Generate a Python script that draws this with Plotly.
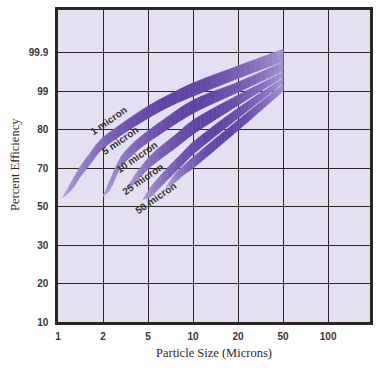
import numpy as np
import plotly.graph_objects as go

# ---- axis ticks (equally spaced probability / log-style grid) ----
x_tick_values = [1, 2, 5, 10, 20, 50, 100]
x_tick_labels = ["1", "2", "5", "10", "20", "50", "100"]
y_tick_values = [10, 20, 30, 50, 70, 80, 99, 99.9]
y_tick_labels = ["10", "20", "30", "50", "70", "80", "99", "99.9"]

band_names = ["1 micron", "5 micron", "10 micron", "25 micron", "50 micron"]

# ---- bands: particle size (microns) vs upper / lower efficiency (%) ----
b1_size = [1.08, 1.24, 1.40, 1.64, 1.91, 2.89, 5, 7.02, 10, 20, 50]
b1_upper = [54.86, 63.19, 70.23, 73.88, 77.26, 82.69, 91.59, 97.52, 99.19, 99.59, 99.98]
b1_lower = [54.86, 59.02, 65.27, 71.01, 74.40, 78.56, 85.66, 91.59, 96.53, 99.30, 99.70]

b2_size = [2.0, 2.31, 2.83, 3.47, 4.25, 6.01, 10, 20, 50]
b2_upper = [55.38, 63.71, 72.57, 75.70, 78.04, 83.68, 94.55, 99.21, 99.68]
b2_lower = [55.38, 59.02, 69.95, 72.83, 75.18, 78.82, 88.13, 98.51, 99.47]

b3_size = [3.19, 3.68, 4.25, 5.15, 6.01, 7.58, 10, 20, 50]
b3_upper = [58.50, 64.75, 69.95, 73.09, 75.44, 78.56, 84.67, 97.02, 99.44]
b3_lower = [58.50, 61.11, 65.27, 70.23, 72.31, 75.18, 78.82, 92.08, 99.33]

b4_size = [4.52, 5.15, 6.01, 7.02, 8.19, 10, 20, 50]
b4_upper = [53.82, 59.54, 65.79, 70.75, 73.36, 76.74, 90.60, 99.30]
b4_lower = [53.82, 54.86, 60.07, 65.27, 70.23, 73.62, 85.66, 99.19]

b5_size = [6.60, 7.58, 8.57, 10, 20, 50]
b5_upper = [60.07, 66.83, 70.49, 72.83, 84.67, 99.16]
b5_lower = [60.07, 62.66, 66.31, 69.95, 79.86, 99.0]

bands = [
    (b1_size, b1_upper, b1_lower),
    (b2_size, b2_upper, b2_lower),
    (b3_size, b3_upper, b3_lower),
    (b4_size, b4_upper, b4_lower),
    (b5_size, b5_upper, b5_lower),
]


# ---- scale transforms (grid is equally spaced between tick values) ----
def x_pos(s):
    s = np.asarray(s, float)
    return np.interp(np.log(s), np.log(x_tick_values), np.arange(len(x_tick_values)))


def y_pos(v):
    v = np.asarray(v, float)
    idx = np.interp(v, y_tick_values, np.arange(len(y_tick_values)))
    above = v > y_tick_values[-1]
    step = y_tick_values[-1] - y_tick_values[-2]
    idx[above] = len(y_tick_values) - 1 + (v[above] - y_tick_values[-1]) / step
    return idx


def smooth(x, y, xq):
    x = np.asarray(x, float)
    y = np.asarray(y, float)
    m = np.empty_like(y)
    m[1:-1] = (y[2:] - y[:-2]) / (x[2:] - x[:-2])
    m[0] = (y[1] - y[0]) / (x[1] - x[0])
    m[-1] = (y[-1] - y[-2]) / (x[-1] - x[-2])
    i = np.clip(np.searchsorted(x, xq) - 1, 0, len(x) - 2)
    h = x[i + 1] - x[i]
    t = (xq - x[i]) / h
    h00 = 2 * t**3 - 3 * t**2 + 1
    h10 = t**3 - 2 * t**2 + t
    h01 = -2 * t**3 + 3 * t**2
    h11 = t**3 - t**2
    return h00 * y[i] + h10 * h * m[i] + h01 * y[i + 1] + h11 * h * m[i + 1]


LIGHT_L = np.array([174, 162, 218])
LIGHT_R = np.array([168, 150, 212])
DARK = np.array([98, 68, 166])

fig = go.Figure()
N = 40
for size, up, lo in bands:
    xs = x_pos(size)
    yu = y_pos(up)
    yl = y_pos(lo)
    xq = np.linspace(xs[0], xs[-1], N * 4 + 1)
    qu = smooth(xs, yu, xq)
    ql = smooth(xs, yl, xq)
    for k in range(N):
        a, b = 4 * k, 4 * k + 5
        tm = (k + 0.5) / N
        w = np.sin(np.pi * tm) ** 0.8
        base = LIGHT_L * (1 - tm) + LIGHT_R * tm
        c = base + (DARK - base) * w
        col = "rgb(%d,%d,%d)" % tuple(np.round(c).astype(int))
        px = np.concatenate([xq[a:b], xq[a:b][::-1]])
        py = np.concatenate([qu[a:b], ql[a:b][::-1]])
        fig.add_trace(go.Scatter(
            x=px, y=py, mode="lines", fill="toself", fillcolor=col,
            line=dict(color=col, width=0.8), hoverinfo="skip", showlegend=False,
        ))

# band labels
label_pos = [(109, 121), (120, 140), (136, 157), (142, 179), (155, 198)]
for name, (lx, ly) in zip(band_names, label_pos):
    fig.add_annotation(
        x=(lx - 58) / 312, y=(322 - ly) / 312, xref="paper", yref="paper",
        text=name, showarrow=False, textangle=-35,
        font=dict(family="Liberation Sans", size=10, color="#383232", weight="bold"),
        xanchor="center", yanchor="middle",
    )

fig.add_annotation(
    x=0.5, y=(322 - 353) / 312, xref="paper", yref="paper",
    text="Particle Size (Microns)", showarrow=False,
    font=dict(family="Liberation Serif", size=12.5, color="#2e2828"),
    xanchor="center", yanchor="middle",
)
fig.add_annotation(
    x=(15 - 58) / 312, y=(322 - 165) / 312, xref="paper", yref="paper",
    text="Percent Efficiency", showarrow=False, textangle=-90,
    font=dict(family="Liberation Serif", size=12.5, color="#2e2828"),
    xanchor="center", yanchor="middle",
)

tickfont = dict(family="Liberation Sans", size=10, color="#3a3434", weight="bold")
fig.update_xaxes(
    range=[0, 6.93], tickmode="array", tickvals=list(range(len(x_tick_values))),
    ticktext=x_tick_labels, showgrid=True, gridcolor="#2c2525", gridwidth=1.2,
    zeroline=False, showline=True, linecolor="#2c2525", linewidth=2.5, mirror=True,
    ticks="", tickfont=tickfont, ticklabelstandoff=3, automargin=False,
)
fig.update_yaxes(
    range=[0, 8.11], tickmode="array", tickvals=list(range(len(y_tick_values))),
    ticktext=y_tick_labels, showgrid=True, gridcolor="#2c2525", gridwidth=1.2,
    zeroline=False, showline=True, linecolor="#2c2525", linewidth=2.5, mirror=True,
    ticks="", tickfont=tickfont, ticklabelstandoff=5, automargin=False,
)
fig.update_layout(
    width=382, height=371,
    margin=dict(l=58, r=12, t=10, b=49),
    paper_bgcolor="white", plot_bgcolor="#e4e0f2",
    showlegend=False,
)
fig.write_html("out.html", config={"displayModeBar": False},
               post_script="document.body.style.margin='0';")
